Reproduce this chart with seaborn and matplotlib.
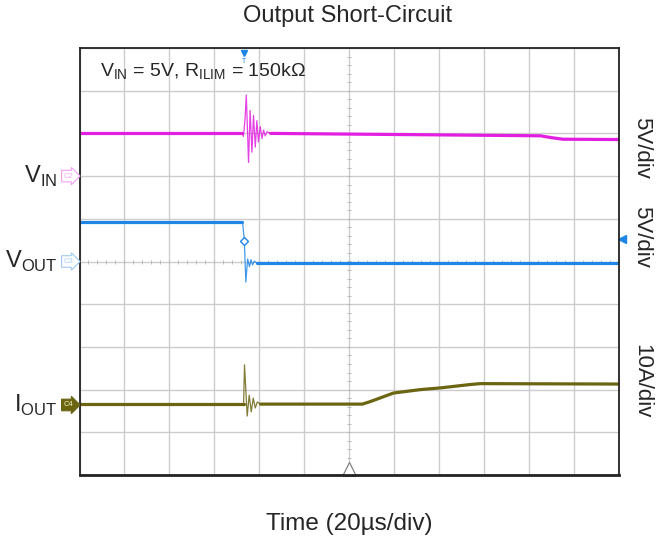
import numpy as np
import pandas as pd
import seaborn as sns
import matplotlib
matplotlib.use("Agg")
import matplotlib.pyplot as plt

sns.set_style("white")
plt.rcParams['font.family'] = ['Liberation Sans', 'DejaVu Sans']
plt.rcParams['mathtext.fontset'] = 'custom'
plt.rcParams['mathtext.rm'] = 'Liberation Sans'

# scope settings: 12 horizontal divisions of 20us, 10 vertical divisions
us_per_div = 20
vin_scale, vout_scale, iout_scale = 5, 5, 10      # V/div, V/div, A/div
vin_gnd, vout_gnd, iout_gnd = 2.0, 0.0, -3.36     # ground level in divisions

# VIN trace (V)
vin_t = [0, 72.4, 72.9, 73.6, 74.2, 75.2, 75.9, 76.7, 77.4, 78.2, 78.9, 79.6, 80.4,
         81.2, 81.9, 82.6, 83.4, 85.0, 150, 205, 210, 215, 240]
vin_v = [5.05, 5.05, 4.65, 6.5, 9.5, 1.6, 7.7, 2.8, 7.1, 3.4, 6.5, 4.0, 5.8,
         4.4, 5.4, 4.7, 5.2, 5.0, 4.85, 4.72, 4.5, 4.32, 4.28]
vin_ring = (1, 17)   # index range of the ringing part

# VOUT trace (V)
vout_t = [0, 72.5, 73.3, 74.0, 74.8, 75.6, 76.3, 77.0, 77.8, 79.0, 240]
vout_v = [4.66, 4.66, 2.6, -2.4, 0.3, -0.6, 0.2, -0.4, 0.05, -0.2, -0.2]
vout_ring = (1, 9)

# IOUT trace (A)
iout_t = [0, 73.0, 73.4, 74.6, 75.5, 76.4, 77.3, 78.2, 79.1, 80.5, 125.8, 129.4,
          139.7, 151.7, 160.6, 174.0, 178.4, 240]
iout_i = [0.2, 0.2, 9.4, -2.6, 2.3, -1.6, 1.6, -0.7, 0.7, 0.2, 0.2, 0.8,
          2.8, 3.6, 4.0, 4.8, 5.0, 4.9]
iout_ring = (1, 9)

c_vin, c_vout, c_iout = '#e21fe0', '#1f86e6', '#6b6512'

fig = plt.figure(figsize=(6.68, 5.49), dpi=100)
ax = fig.add_axes([79.5 / 668, 1 - 475 / 549, 539.5 / 668, 427 / 549])
ax.set_xlim(0, 12 * us_per_div)
ax.set_ylim(-5, 5)
ax.set_xticks(np.arange(0, 241, us_per_div))
ax.set_yticks(np.arange(-5, 6, 1))
ax.grid(True, color='#cccccc', lw=1)
ax.tick_params(length=0, labelbottom=False, labelleft=False)
for s in ax.spines.values():
    s.set_color('#222222')
    s.set_linewidth(1.3)
ax.spines['bottom'].set_linewidth(2)

# minor ticks on the centre lines
mx = np.arange(0, 241, 4)
ax.plot(mx, np.zeros_like(mx), '|', color='#bbbbbb', ms=3, mew=0.7)
my = np.arange(-5, 5.01, 0.2)
ax.plot(np.full_like(my, 120), my, '_', color='#bbbbbb', ms=3, mew=0.7)


def draw(t, val, scale, gnd, color, ring):
    df = pd.DataFrame({'t': t, 'div': gnd + np.array(val) / scale})
    a, b = ring
    for part, lw, al in [(df.iloc[:a + 1], 2.3, 1), (df.iloc[b:], 2.3, 1), (df.iloc[a:b + 1], 0.9, 0.85)]:
        sns.lineplot(data=part, x='t', y='div', ax=ax, color=color, lw=lw, alpha=al,
                     estimator=None, sort=False)


draw(vin_t, vin_v, vin_scale, vin_gnd, c_vin, vin_ring)
draw(vout_t, vout_v, vout_scale, vout_gnd, c_vout, vout_ring)
draw(iout_t, iout_i, iout_scale, iout_gnd, c_iout, iout_ring)
ax.set_xlabel('')
ax.set_ylabel('')

# marker on VOUT edge
ax.plot([73.3], [vout_gnd + 2.45 / vout_scale], 'D', ms=4, mfc='white', mec=c_vout, mew=1)

# trigger markers
ax.plot([73.3], [4.88], 'v', ms=5, color=c_vout, clip_on=False)
ax.text(73.3, 4.68, 'T', color=c_vout, fontsize=5, ha='center', va='center')
ax.plot([241.5], [0.53], '<', ms=6, color=c_vout, clip_on=False)
ax.plot([120], [-4.86], '^', ms=10, mfc='white', mec='#777777', mew=0.8, clip_on=False)

ax.text(9, 4.44, r'V$_{\mathregular{IN}}$ = 5V, R$_{\mathregular{ILIM}}$ = 150k$\Omega$',
        fontsize=14, va='center')

# channel labels on the left
left = [(vin_gnd, r'V$_{\mathregular{IN}}$', 'C2', '#f0a0f0', 'white', '#f0a8f0'),
        (vout_gnd, r'V$_{\mathregular{OUT}}$', 'C3', '#a0c8f0', 'white', '#a8d0f4'),
        (iout_gnd, r'I$_{\mathregular{OUT}}$', 'C4', c_iout, c_iout, '#f0f0c0')]
for y, name, tag, col, fill, tcol in left:
    ax.text(-9.7, y, name, fontsize=17, ha='right', va='center', clip_on=False)
    ax.text(-4.8, y, tag, fontsize=5.5, ha='center', va='center', color=tcol, clip_on=False,
            bbox=dict(boxstyle='rarrow,pad=0.3', fc=fill, ec=col, lw=0.8))

# volts/amps per div on the right
for y, txt in [(2.67, '5V/div'), (0.58, '5V/div'), (-2.8, '10A/div')]:
    ax.text(250, y, txt, fontsize=16, rotation=270, ha='center', va='center', clip_on=False)

fig.text(348 / 668, 1 - 16 / 549, 'Output Short-Circuit', fontsize=17, ha='center', va='center')
fig.text(349 / 668, 1 - 524 / 549, 'Time (20\u00b5s/div)', fontsize=17.5, ha='center', va='center')

fig.savefig('out.png', dpi=100)
